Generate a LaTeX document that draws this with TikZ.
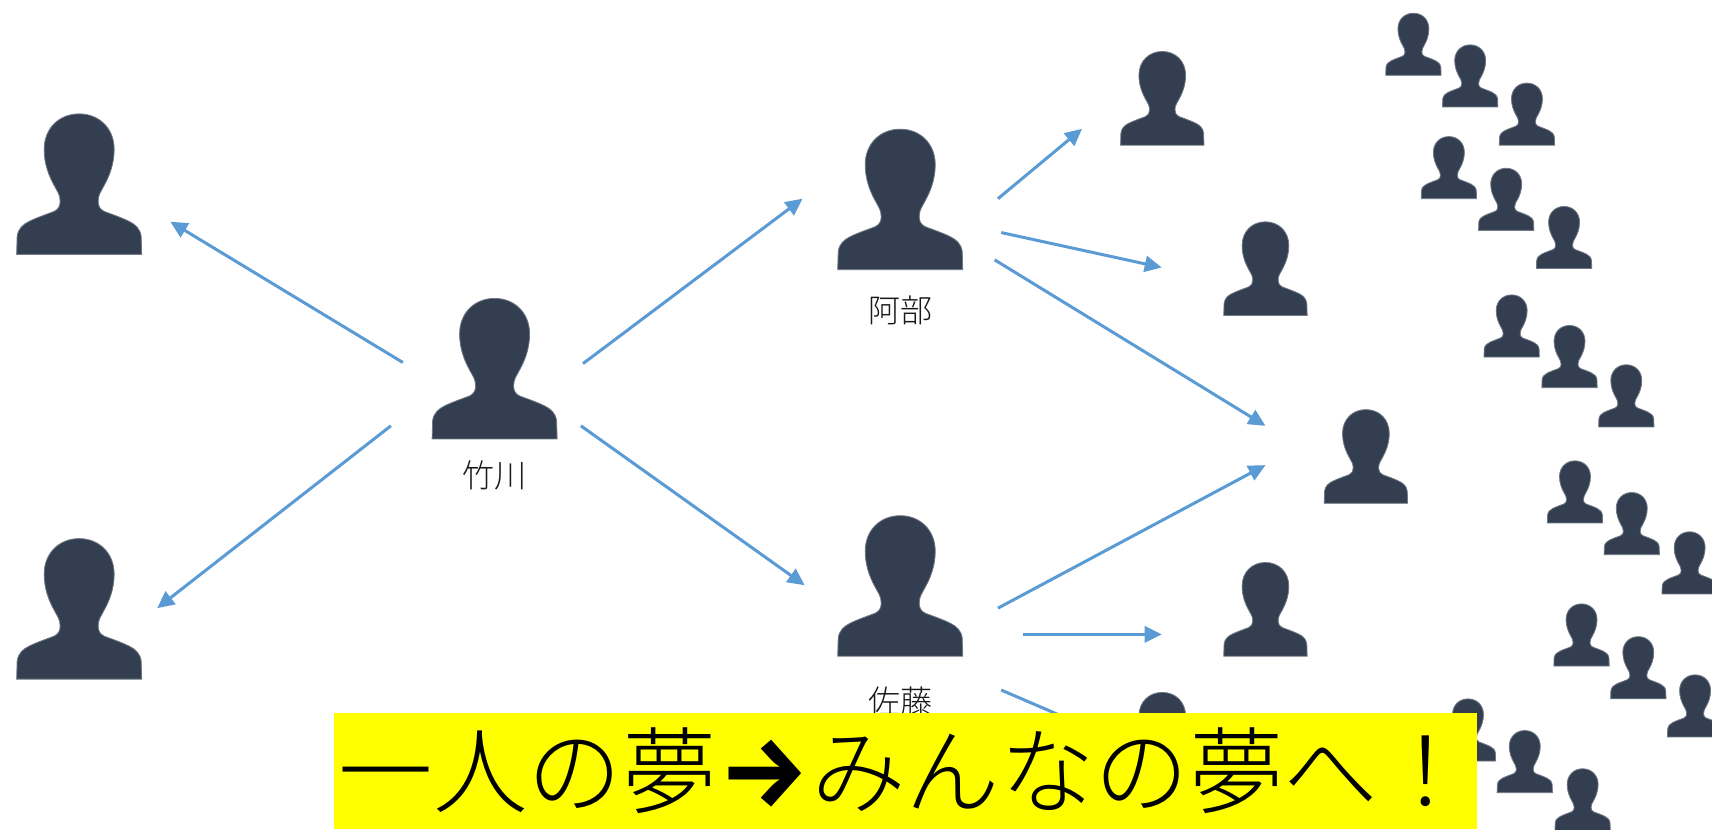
\documentclass[tikz,border=0pt]{standalone}
\usepackage{fontspec}
\newfontfamily\jp{Noto Sans CJK JP Light}
\newfontfamily\jparrow{Fira Sans}
\usetikzlibrary{arrows.meta}
\definecolor{silhouette}{HTML}{333F50}
\definecolor{silhouetteedge}{HTML}{6F7885}
\definecolor{arrowblue}{HTML}{5B9BD5}
\definecolor{bannerfill}{HTML}{FFFF00}
\tikzset{
  persona/.pic={
    \draw[silhouetteedge,line width=0.8pt,fill=silhouette] (-62.5,0) -- (-62,-18)
      .. controls (-61,-26) and (-56,-30) .. (-50,-33)
      .. controls (-42,-37) and (-30,-41) .. (-25,-43)
      .. controls (-21,-45) and (-19,-48) .. (-19,-53)
      .. controls (-19,-60) and (-22,-63) .. (-25,-69)
      .. controls (-30,-78) and (-35,-90) .. (-35,-105)
      .. controls (-35,-126) and (-20,-140.5) .. (0,-140.5)
      .. controls (20,-140.5) and (35,-126) .. (35,-105)
      .. controls (35,-90) and (30,-78) .. (25,-69)
      .. controls (22,-63) and (19,-60) .. (19,-53)
      .. controls (19,-48) and (21,-45) .. (25,-43)
      .. controls (30,-41) and (42,-37) .. (50,-33)
      .. controls (56,-30) and (61,-26) .. (62,-18)
      -- (62.5,0) -- cycle;
  },
  big/.style={scale=0.916},
  mid/.style={scale=0.611},
  tiny/.style={scale=0.405},
  flow/.style={draw=arrowblue,line width=3pt,-{Triangle[length=17pt,width=16pt]}},
  namelabel/.style={font=\jp\fontsize{32}{35}\selectfont,text=black!90,inner sep=0pt},
  banner/.style={fill=bannerfill,inner sep=0pt,minimum width=1143pt,minimum height=116pt,anchor=north west,font=\jp\fontsize{94.5}{100}\selectfont,text=black},
}
\begin{document}
\begin{tikzpicture}[x=1.0918pt,y=-1.0918pt]
\useasboundingbox (0,0) rectangle (1568,759.3);
\clip (0,0) rectangle (1568,759.3);
\fill[white] (0,0) rectangle (1568,759.3);
% large people
\pic[big] (pa) at (72.5,233) {persona};
\pic[big] (pb) at (72.5,622) {persona};
\pic[big] (pc) at (453,402) {persona};
\pic[big] (pd) at (824.5,247) {persona};
\pic[big] (pe) at (824.5,601) {persona};
% medium people
\pic[mid] (pf) at (1064.5,133) {persona};
\pic[mid] (pg) at (1159,289) {persona};
\pic[mid] (ph) at (1251,461) {persona};
\pic[mid] (pi) at (1159,601) {persona};
\pic[mid] (pj) at (1064.5,720) {persona};
% small people
\foreach \x/\y in {1294.5/69,1346.5/98,1398.5/133,
  1327/182,1379.5/211,1432.5/246,
  1384.5/327,1437.5/355,1489.5/391,
  1442.5/479,1494.5/508,1547.5/544,
  1448.5/610,1500.5/640,1552.5/675,
  1344.5/697,1396.5/726,1449.5/761}
  {\pic[tiny] at (\x,\y) {persona};}
% labels
\node[namelabel] (takegawa) at (453,435) {竹川};
\node[namelabel] (abe) at (825,284) {阿部};
\node[namelabel] (sato) at (825,642) {佐藤};
% arrow ends
\coordinate (c1s) at (369,332); \coordinate (c1e) at (156,203);
\coordinate (c2s) at (358,390); \coordinate (c2e) at (144,557);
\coordinate (c3s) at (534,333); \coordinate (c3e) at (735,182);
\coordinate (c4s) at (532,390); \coordinate (c4e) at (737,536);
\coordinate (d1s) at (914,182); \coordinate (d1e) at (991,118);
\coordinate (d2s) at (917,213); \coordinate (d2e) at (1064,245);
\coordinate (d3s) at (911,238); \coordinate (d3e) at (1159,390);
\coordinate (e1s) at (914,557); \coordinate (e1e) at (1159,426);
\coordinate (e2s) at (937,581); \coordinate (e2e) at (1064,581);
\coordinate (e3s) at (917,632); \coordinate (e3e) at (1010,672);
\draw[flow] (c1s) -- (c1e);
\draw[flow] (c2s) -- (c2e);
\draw[flow] (c3s) -- (c3e);
\draw[flow] (c4s) -- (c4e);
\draw[flow] (d1s) -- (d1e);
\draw[flow] (d2s) -- (d2e);
\draw[flow] (d3s) -- (d3e);
\draw[flow] (e1s) -- (e1e);
\draw[flow] (e2s) -- (e2e);
\draw[flow] (e3s) -- (e3e);
% banner
\node[banner] (slogan) at (306,653) {\raisebox{-1.5pt}{一人の夢\makebox[1em]{\jparrow\bfseries\fontsize{100}{100}\selectfont →}みんなの夢へ！}};
\end{tikzpicture}
\end{document}
